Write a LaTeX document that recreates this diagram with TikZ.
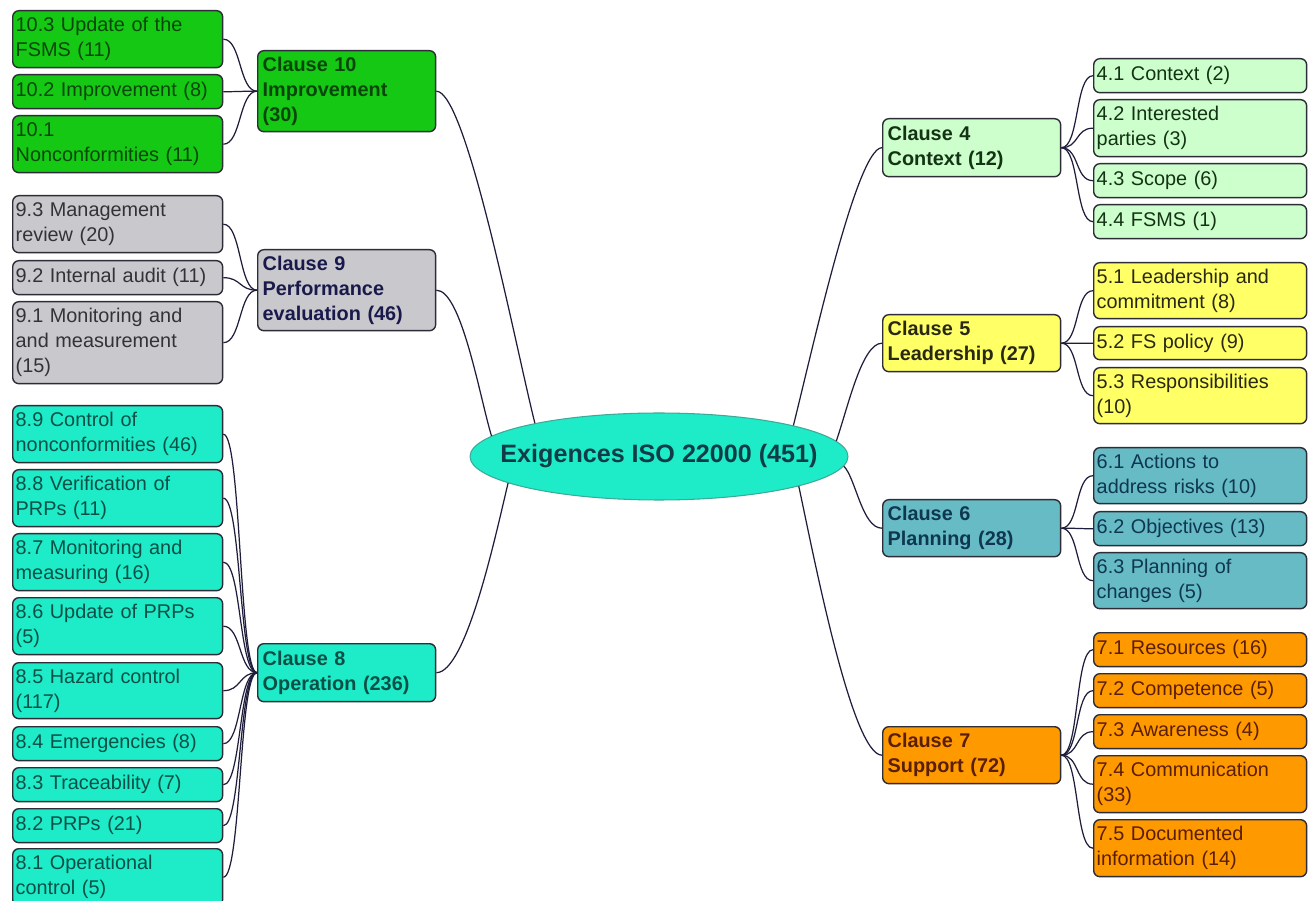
\documentclass[tikz,border=0pt]{standalone}
\usepackage{fontspec}
\setmainfont{Liberation Sans}
\usetikzlibrary{shapes.geometric}

\definecolor{boxline}{RGB}{45,45,55}
\definecolor{linkcol}{RGB}{30,30,60}
\definecolor{grnfill}{RGB}{20,200,20}
\definecolor{grntext}{RGB}{10,70,10}
\definecolor{gryfill}{RGB}{200,200,205}
\definecolor{grytext}{RGB}{50,50,55}
\definecolor{grynavy}{RGB}{25,25,75}
\definecolor{aquafill}{RGB}{30,235,200}
\definecolor{aquatext}{RGB}{10,80,70}
\definecolor{roottext}{RGB}{15,60,70}
\definecolor{rootline}{RGB}{60,170,150}
\definecolor{ltgfill}{RGB}{204,255,204}
\definecolor{ltgtext}{RGB}{20,50,20}
\definecolor{ylwfill}{RGB}{255,255,102}
\definecolor{ylwtext}{RGB}{40,40,20}
\definecolor{tealfill}{RGB}{102,187,196}
\definecolor{tealtext}{RGB}{15,55,80}
\definecolor{orgfill}{RGB}{255,153,0}
\definecolor{orgtext}{RGB}{90,30,0}

\begin{document}
\begin{tikzpicture}[x=0.02cm,y=-0.02cm,
  box/.style={draw=boxline,line width=0.8pt,rounded corners=3.5pt,anchor=north west,align=left,inner ysep=1pt,font=\fontsize{11.3}{14.2}\selectfont},
  leaf/.style={box,inner xsep=0.06cm,text width=4.08cm},
  rleaf/.style={box,inner xsep=0.06cm,text width=4.14cm},
  clause/.style={box,inner xsep=0.1cm,text width=3.36cm,font=\fontsize{11.3}{14.2}\selectfont\bfseries},
  link/.style={draw=linkcol,line width=0.7pt},
  grn/.style={fill=grnfill,text=grntext},
  gry/.style={fill=gryfill,text=grytext},
  aqua/.style={fill=aquafill,text=aquatext},
  ltg/.style={fill=ltgfill,text=ltgtext},
  ylw/.style={fill=ylwfill,text=ylwtext},
  teal/.style={fill=tealfill,text=tealtext},
  org/.style={fill=orgfill,text=orgtext}]

\fill[white] (0,0) rectangle (1311,901);
\useasboundingbox (0,0) rectangle (1311,901);

\node[ellipse,draw=rootline,line width=0.6pt,fill=aquafill,minimum width=7.56cm,minimum height=1.74cm,inner sep=0pt,
      font=\fontsize{14.3}{17}\selectfont\bfseries,text=roottext] (root) at (659,456.5) {\makebox[0pt]{Exigences ISO 22000 (451)}};

\node[clause,grn,minimum height=1.62cm] (c10) at (257,50) {Clause 10\\Improvement\\(30)};
\node[clause,gry,text=grynavy,minimum height=1.62cm] (c9) at (257,249) {Clause 9\\Performance\\evaluation (46)};
\node[clause,aqua,minimum height=1.16cm] (c8) at (257,643) {Clause 8\\Operation (236)};
\node[clause,ltg,minimum height=1.16cm] (c4) at (882,118) {Clause 4\\Context (12)};
\node[clause,ylw,minimum height=1.14cm] (c5) at (882,314) {Clause 5\\Leadership (27)};
\node[clause,teal,minimum height=1.14cm] (c6) at (882,499) {Clause 6\\Planning (28)};
\node[clause,org,minimum height=1.14cm] (c7) at (882,726) {Clause 7\\Support (72)};

\draw[link] (c10.east) .. controls +(30,0) and +(-20,-80) .. (root.165);
\draw[link] (c9.east) .. controls +(25,0) and +(-12,-40) .. (root.173);
\draw[link] (c8.east) .. controls +(30,0) and +(-12,50) .. (root.190);
\draw[link] (c4.west) .. controls +(-25,0) and +(20,-80) .. (root.13);
\draw[link] (c5.west) .. controls +(-20,0) and +(12,-35) .. (root.5);
\draw[link] (c6.west) .. controls +(-20,0) and +(12,12) .. (root.-3);
\draw[link] (c7.west) .. controls +(-30,0) and +(15,70) .. (root.-12);

\foreach \nm/\yy/\hh/\txt in {l103/10/1.14/{10.3 Update of the\\FSMS (11)},l102/74/0.68/{10.2 Improvement (8)},l101/115/1.14/{10.1\\Nonconformities (11)}}
  {\node[leaf,grn,minimum height=\hh cm] (\nm) at (12,\yy) {\txt};
   \draw[link] (\nm.east) .. controls +(18,0) and +(-18,0) .. (c10.west);}

\foreach \nm/\yy/\hh/\txt in {l93/195/1.14/{9.3 Management\\review (20)},l92/260/0.68/{9.2 Internal audit (11)},l91/301/1.64/{9.1 Monitoring and\\and measurement\\(15)}}
  {\node[leaf,gry,minimum height=\hh cm] (\nm) at (12,\yy) {\txt};
   \draw[link] (\nm.east) .. controls +(18,0) and +(-18,0) .. (c9.west);}

\foreach \nm/\yy/\hh/\txt in {l89/405/1.14/{8.9 Control of\\nonconformities (46)},l88/469/1.14/{8.8 Verification of\\PRPs (11)},
    l87/533/1.14/{8.7 Monitoring and\\measuring (16)},l86/597/1.14/{8.6 Update of PRPs\\(5)},l85/662/1.12/{8.5 Hazard control\\(117)},
    l84/726/0.68/{8.4 Emergencies (8)},l83/767/0.68/{8.3 Traceability (7)},l82/808/0.68/{8.2 PRPs (21)},l81/848/1.14/{8.1 Operational\\control (5)}}
  {\node[leaf,aqua,minimum height=\hh cm] (\nm) at (12,\yy) {\txt};
   \draw[link] (\nm.east) .. controls +(18,0) and +(-18,0) .. (c8.west);}

\foreach \nm/\yy/\hh/\txt in {l41/58/0.68/{4.1 Context (2)},l42/99/1.14/{4.2 Interested\\parties (3)},l43/163/0.68/{4.3 Scope (6)},l44/204/0.68/{4.4 FSMS (1)}}
  {\node[rleaf,ltg,minimum height=\hh cm] (\nm) at (1093,\yy) {\txt};
   \draw[link] (c4.east) .. controls +(18,0) and +(-18,0) .. (\nm.west);}

\foreach \nm/\yy/\hh/\txt in {l51/262/1.12/{5.1 Leadership and\\commitment (8)},l52/326/0.66/{5.2 FS policy (9)},l53/367/1.12/{5.3 Responsibilities\\(10)}}
  {\node[rleaf,ylw,minimum height=\hh cm] (\nm) at (1093,\yy) {\txt};
   \draw[link] (c5.east) .. controls +(18,0) and +(-18,0) .. (\nm.west);}

\foreach \nm/\yy/\hh/\txt in {l61/447/1.12/{6.1 Actions to\\address risks (10)},l62/511/0.68/{6.2 Objectives (13)},l63/552/1.12/{6.3 Planning of\\changes (5)}}
  {\node[rleaf,teal,minimum height=\hh cm] (\nm) at (1093,\yy) {\txt};
   \draw[link] (c6.east) .. controls +(18,0) and +(-18,0) .. (\nm.west);}

\foreach \nm/\yy/\hh/\txt in {l71/632/0.68/{7.1 Resources (16)},l72/673/0.68/{7.2 Competence (5)},l73/714/0.68/{7.3 Awareness (4)},
    l74/755/1.14/{7.4 Communication\\(33)},l75/819/1.14/{7.5 Documented\\information (14)}}
  {\node[rleaf,org,minimum height=\hh cm] (\nm) at (1093,\yy) {\txt};
   \draw[link] (c7.east) .. controls +(18,0) and +(-18,0) .. (\nm.west);}
\end{tikzpicture}
\end{document}
